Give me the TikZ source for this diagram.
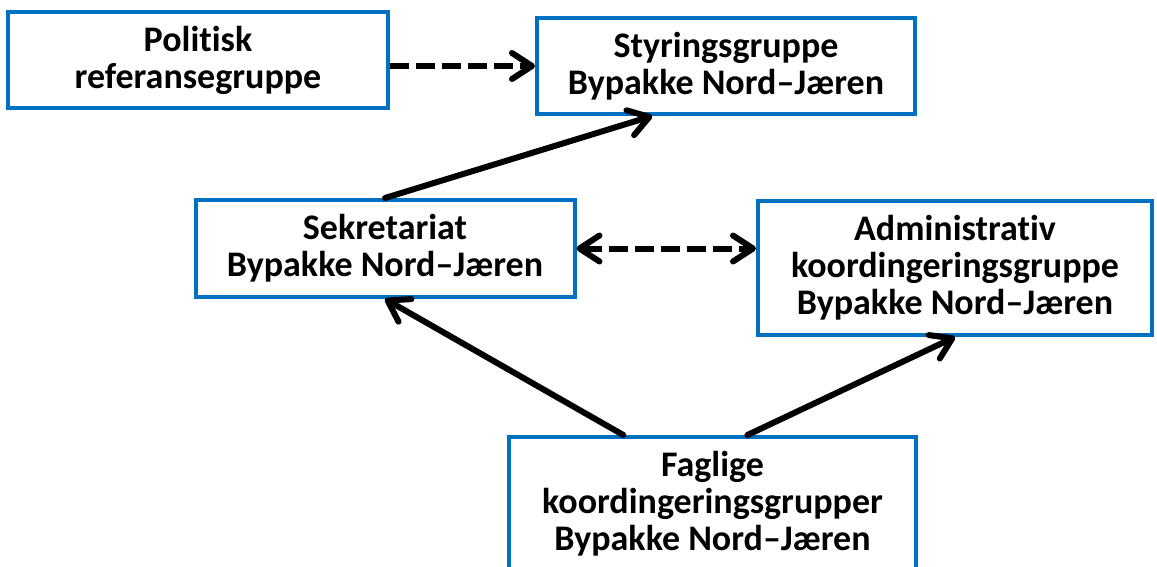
\documentclass[tikz,border=0pt]{standalone}
\usepackage{fontspec}
\setmainfont{Carlito}[Ligatures={NoCommon}]
\usetikzlibrary{arrows.meta,calc}
\definecolor{boxblue}{RGB}{0,112,192}
\begin{document}
\begin{tikzpicture}[x=1pt,y=-1pt,
  box/.style={draw=boxblue, line width=4pt, fill=white, align=center, inner sep=0pt,
    font=\fontsize{36}{37}\selectfont\bfseries},
  tip/.tip={Straight Barb[length=20pt,width=26pt,line cap=round,line join=round]},
  conn/.style={line width=6pt, line cap=round, -tip},
  dashconn/.style={line width=6pt, dash pattern=on 19pt off 7pt}]
\useasboundingbox (0,0) rectangle (1157,567);
\clip (0,0) rectangle (1157,567);
\node[box, minimum width=380pt, minimum height=96pt] (pol) at (198,60) {Politisk\\referansegruppe};
\node[box, minimum width=378pt, minimum height=96pt] (styr) at (726,66) {Styringsgruppe\\Bypakke Nord–Jæren};
\node[box, minimum width=379pt, minimum height=97pt] (sek) at (385,248.5) {Sekretariat\\Bypakke Nord–Jæren};
\node[box, minimum width=394pt, minimum height=134pt] (adm) at (955,268) {Administrativ\\koordingeringsgruppe\\Bypakke Nord–Jæren};
\node[box, minimum width=407pt, minimum height=134pt] (fag) at (712.5,504) {Faglige\\koordingeringsgrupper\\Bypakke Nord–Jæren};
\draw[dashconn, -tip] (pol.east |- styr.west) -- (styr.west);
\draw[dashconn, tip-tip] (sek.east) -- (adm.west |- sek.east);
\draw[conn] (sek.north) -- ($(styr.south west)!0.307!(styr.south east)$);
\draw[conn] ($(fag.north west)!0.283!(fag.north east)$) -- (sek.south);
\draw[conn] ($(fag.north west)!0.585!(fag.north east)$) -- (adm.south);
\end{tikzpicture}
\end{document}
